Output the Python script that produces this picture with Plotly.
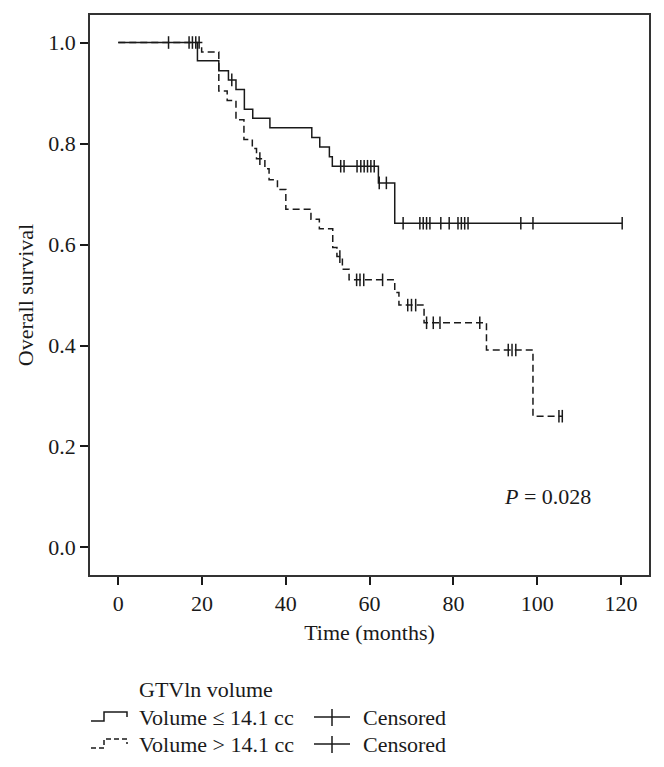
import plotly.graph_objects as go

# ---------------- data ----------------
# Volume <= 14.1 cc (solid)
solid_step_times = [0, 18.9, 24.0, 26.3, 28.1, 30.1, 32.1, 36.2, 46.2, 48.1, 50.4, 51.1, 62.1, 66.0]
solid_step_surv = [1.0, 0.964, 0.944, 0.926, 0.907, 0.868, 0.850, 0.831, 0.812, 0.793, 0.774, 0.755, 0.722, 0.642]
solid_end_time = 120.3
solid_censor_times = [12.0, 16.9, 17.7, 27.1, 53.1, 53.9, 57.0, 57.9, 58.7, 59.5, 60.3, 61.1,
                      62.3, 64.0, 68.0, 72.0, 72.8, 73.6, 74.4, 77.0, 79.0, 81.1, 81.9, 82.7,
                      83.5, 96.1, 99.0, 120.3]

# Volume > 14.1 cc (dashed)
dash_step_times = [0, 19.9, 24.0, 26.0, 28.1, 30.0, 32.0, 33.0, 35.0, 36.0, 38.0, 40.0, 46.0,
                   48.0, 51.2, 52.2, 53.5, 55.1, 66.0, 67.0, 73.0, 87.9, 99.0]
dash_step_surv = [1.0, 0.981, 0.904, 0.885, 0.847, 0.808, 0.790, 0.770, 0.750, 0.728, 0.709,
                  0.670, 0.650, 0.631, 0.594, 0.576, 0.551, 0.530, 0.505, 0.480, 0.445, 0.391, 0.260]
dash_end_time = 106.0
dash_censor_times = [18.5, 19.3, 33.8, 52.9, 56.9, 57.7, 58.6, 63.1, 69.1, 70.0, 71.0, 73.6,
                     75.2, 76.8, 86.3, 93.1, 94.0, 94.9, 105.2, 106.0]

x_ticks = [0, 20, 40, 60, 80, 100, 120]
y_ticks = [0.0, 0.2, 0.4, 0.6, 0.8, 1.0]
p_text = "<i>P</i> = 0.028"
legend_title = "GTVln volume"
legend_labels = ["Volume ≤ 14.1 cc", "Volume > 14.1 cc"]
censor_label = "Censored"

FONT = "Liberation Serif"
INK = "#1a1a1a"
TICK_SIZE = 22
TITLE_SIZE = 22
TEXT_SIZE = 22


def surv_at(t, times, surv):
    val = surv[0]
    for tt, s in zip(times, surv):
        if tt <= t:
            val = s
    return val


fig = go.Figure()

for times, surv, end, cens, dash in [
    (solid_step_times, solid_step_surv, solid_end_time, solid_censor_times, "solid"),
    (dash_step_times, dash_step_surv, dash_end_time, dash_censor_times, "7px,4px"),
]:
    xs = list(times) + [end]
    ys = list(surv) + [surv[-1]]
    fig.add_trace(go.Scatter(x=xs, y=ys, mode="lines", line=dict(shape="hv", color=INK, width=1.5, dash=dash),
                             showlegend=False, hoverinfo="skip"))
    fig.add_trace(go.Scatter(x=cens, y=[surv_at(t, times, surv) for t in cens], mode="markers",
                             marker=dict(symbol="line-ns", size=9, line=dict(color=INK, width=1.5)),
                             showlegend=False, hoverinfo="skip"))

fig.add_annotation(x=91.5, y=0.10, xref="x", yref="y", text=p_text, showarrow=False,
                   xanchor="left", yanchor="middle", font=dict(family=FONT, size=TEXT_SIZE, color=INK))

W, H = 664, 767
L, R, T, B = 90, 15, 15, 192
pw, ph = W - L - R, H - T - B


def px(xp):
    return (xp - L) / pw


def py(yp):
    return (H - B - yp) / ph


shapes = []
# legend title
fig.add_annotation(x=px(137), y=py(689), xref="paper", yref="paper", text=legend_title, showarrow=False,
                   xanchor="left", yanchor="middle", font=dict(family=FONT, size=TEXT_SIZE, color=INK))
rows = [717, 744]
for i, yc in enumerate(rows):
    dash = "solid" if i == 0 else "5px,3px"
    lo, hi = yc + 4, yc - 5
    pts = [(91, lo), (104, lo), (104, hi), (127, hi), (127, yc)]
    path = "M " + " L ".join(f"{px(a)},{py(b)}" for a, b in pts)
    shapes.append(dict(type="path", path=path, xref="paper", yref="paper",
                       line=dict(color=INK, width=1.5, dash=dash)))
    fig.add_annotation(x=px(137), y=py(yc), xref="paper", yref="paper", text=legend_labels[i],
                       showarrow=False, xanchor="left", yanchor="middle",
                       font=dict(family=FONT, size=TEXT_SIZE, color=INK))
    shapes.append(dict(type="line", x0=px(314), x1=px(350), y0=py(yc), y1=py(yc), xref="paper", yref="paper",
                       line=dict(color=INK, width=1.5)))
    shapes.append(dict(type="line", x0=px(332), x1=px(332), y0=py(yc - 8), y1=py(yc + 9), xref="paper",
                       yref="paper", line=dict(color=INK, width=1.5)))
    fig.add_annotation(x=px(361), y=py(yc), xref="paper", yref="paper", text=censor_label,
                       showarrow=False, xanchor="left", yanchor="middle",
                       font=dict(family=FONT, size=TEXT_SIZE, color=INK))

fig.update_layout(
    width=W, height=H,
    margin=dict(l=L, r=R, t=T, b=B),
    paper_bgcolor="white", plot_bgcolor="white",
    font=dict(family=FONT, size=20, color=INK),
    shapes=shapes,
    xaxis=dict(range=[-6.75, 126.7], tickvals=x_ticks, ticks="outside", ticklen=8, tickwidth=1.5,
               tickcolor=INK, showline=True, linecolor="#333", linewidth=1.5, mirror=True,
               showgrid=False, zeroline=False,
               title=dict(text="Time (months)", standoff=9, font=dict(family=FONT, size=TITLE_SIZE, color=INK)),
               tickfont=dict(family=FONT, size=TICK_SIZE, color=INK)),
    yaxis=dict(range=[-0.0545, 1.0545], tickvals=y_ticks, tickformat=".1f", ticks="outside", ticklen=8,
               tickwidth=1.5, tickcolor=INK, showline=True, linecolor="#333", linewidth=1.5, mirror=True,
               showgrid=False, zeroline=False,
               title=dict(text="Overall survival", standoff=9, font=dict(family=FONT, size=TITLE_SIZE, color=INK)),
               tickfont=dict(family=FONT, size=TICK_SIZE, color=INK)),
)

fig.write_html("out.html", config={"displayModeBar": False},
               post_script="document.body.style.margin='0px';document.body.style.overflow='hidden';")
